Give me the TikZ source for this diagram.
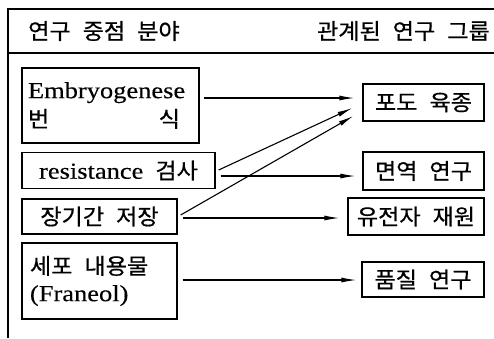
\documentclass[tikz,border=0pt]{standalone}
\usepackage{fontspec}
\setmainfont{Liberation Serif}[FakeStretch=1.15,FakeBold=0.25]
\newfontfamily\kr{Noto Sans CJK KR}[FakeStretch=1.05,FakeBold=0.6]
\usetikzlibrary{arrows.meta}
\newcommand\kgap{\hspace{12pt}}
\newcommand\krs{\kr\fontsize{22}{25}\selectfont}
\begin{document}
\begin{tikzpicture}[x=1pt,y=-1pt,
  box/.style={draw, line width=1.3pt, inner sep=0pt, font=\fontsize{23}{27}\selectfont},
  kbox/.style={box, font=\krs},
  hdr/.style={inner sep=0pt, font=\krs},
  arr/.style={line width=1.1pt, -{Latex[length=15pt,width=5pt]}},
  frame/.style={line width=1.4pt}]
\useasboundingbox (0,0) rectangle (494,338);
% frame
\draw[frame] (8,338) -- (8,9) -- (494,9);
\draw[frame] (8,53) -- (494,53);
% header
\node[hdr, anchor=west] (hl) at (28,31) {연구\kgap 중점\kgap 분야};
\node[hdr, anchor=east] (hr) at (490,31) {관계된\kgap 연구\kgap 그룹};
% left boxes
\node[box, minimum width=177pt, minimum height=75pt] (emb) at (110.5,105.5)
  {\begin{minipage}{165pt}Embryogenese\\[2pt]\hbox to 152pt{\krs 번\hfill 식}\end{minipage}};
\node[box, minimum width=193pt, minimum height=36pt] (res) at (118.5,170.5)
  {resistance\kgap{\krs 검사}};
\node[kbox, minimum width=155pt, minimum height=35pt] (jang) at (99.5,216.5) {장기간\kgap 저장};
\node[box, minimum width=155pt, minimum height=76pt] (sepo) at (99.5,281)
  {\begin{minipage}{139pt}{\krs 세포\kgap 내용물}\\[0pt](Franeol)\end{minipage}};
% right boxes
\node[kbox, minimum width=121pt, minimum height=37pt] (podo) at (423.5,102.5) {포도\kgap 육종};
\node[kbox, minimum width=121pt, minimum height=38pt] (myeon) at (423.5,171) {면역\kgap 연구};
\node[kbox, minimum width=136pt, minimum height=37pt] (yujeon) at (416,216.5) {유전자\kgap 재원};
\node[kbox, minimum width=122pt, minimum height=35pt] (pumjil) at (423,279.5) {품질\kgap 연구};
% arrows
\draw[arr] ([shift={(4,-7.5)}]emb.east) -- ([shift={(-8,-4.5)}]podo.west);
\draw[arr] ([shift={(3,-0.5)}]res.east) -- ([shift={(-10,5.5)}]podo.west);
\draw[arr] ([shift={(3,-1.5)}]jang.east) -- ([shift={(-9,13.5)}]podo.west);
\draw[arr] ([shift={(5,5.5)}]res.east) -- ([shift={(-7,5)}]myeon.west);
\draw[arr] ([shift={(5,1.5)}]jang.east) -- ([shift={(-8,1.5)}]yujeon.west);
\draw[arr] ([shift={(5,-1)}]sepo.east) -- ([shift={(-5,0.5)}]pumjil.west);
\end{tikzpicture}
\end{document}
